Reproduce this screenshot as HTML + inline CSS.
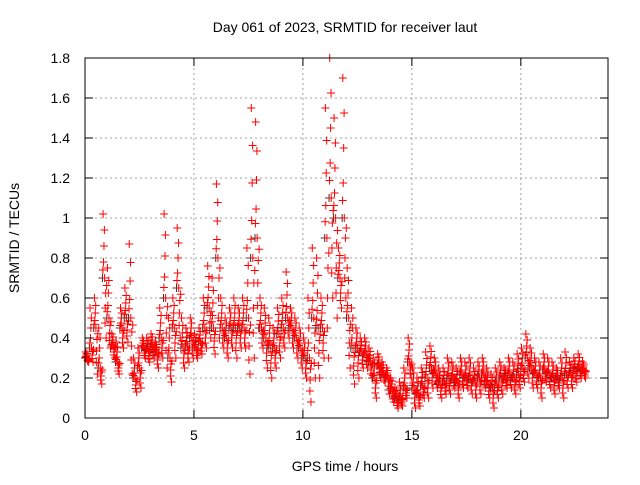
<!DOCTYPE html>
<html><head><meta charset="utf-8"><style>
body{margin:0;background:#fff}
svg text{font-family:"Liberation Sans",sans-serif;font-size:14px;fill:#000}
</style></head><body>
<svg id="c" width="640" height="480" xmlns="http://www.w3.org/2000/svg">
<rect width="640" height="480" fill="#fff"/>
<text x="345" y="32" text-anchor="middle">Day 061 of 2023, SRMTID for receiver laut</text>
<text x="345" y="471" text-anchor="middle">GPS time / hours</text>
<text transform="translate(19,238) rotate(-90)" text-anchor="middle">SRMTID / TECUs</text>
<g id="grid"></g><g id="marks"></g><g id="axes"></g>
</svg>
<script>
const t0=0, dt=0.2;
const hiVals=[.33,.55,.6,.45,1.02,.75,.42,.38,.55,.65,.87,.3,.35,.4,.4,.42,.38,.55,1.02,.5,.6,.95,.5,.45,.5,.42,.45,.6,.76,.7,1.17,.6,.5,.55,.6,.55,.6,.85,1.55,1.48,.6,.55,.5,.45,.55,.6,.73,.55,.5,.45,.4,.6,.85,.8,.6,1.55,1.8,1.5,.85,1.7,.75,.55,.45,.4,.4,.35,.3,.32,.28,.25,.2,.15,.18,.25,.4,.25,.2,.25,.33,.36,.3,.25,.25,.3,.28,.25,.3,.28,.3,.25,.28,.3,.25,.22,.25,.28,.25,.3,.28,.32,.35,.42,.35,.3,.28,.32,.3,.28,.25,.3,.33,.28,.3,.32,.28];
const loVals=[.28,.28,.22,.17,.4,.35,.3,.22,.35,.38,.22,.13,.15,.3,.28,.3,.25,.3,.25,.18,.3,.4,.25,.28,.3,.3,.32,.35,.4,.32,.4,.35,.3,.35,.3,.35,.35,.22,.3,.45,.35,.25,.2,.25,.3,.35,.4,.35,.3,.25,.2,.08,.2,.2,.3,.3,.6,.5,.55,.6,.25,.17,.2,.25,.25,.2,.1,.2,.18,.12,.08,.05,.06,.1,.2,.05,.06,.1,.1,.15,.15,.1,.12,.12,.15,.1,.15,.15,.12,.1,.12,.15,.1,.05,.1,.12,.15,.15,.12,.15,.18,.2,.15,.15,.1,.18,.15,.12,.15,.1,.15,.15,.18,.2,.2];
const midVals=[.3,.35,.45,.25,.7,.5,.36,.28,.45,.5,.5,.2,.25,.35,.34,.36,.33,.4,.6,.3,.45,.65,.35,.36,.4,.35,.38,.45,.55,.45,.8,.45,.4,.45,.45,.45,.45,.5,.8,.9,.45,.4,.35,.35,.42,.45,.5,.45,.4,.35,.3,.3,.5,.45,.45,.9,1.1,1.0,.7,1.0,.5,.35,.35,.33,.32,.28,.2,.26,.22,.2,.14,.1,.1,.15,.28,.15,.12,.16,.2,.25,.22,.17,.18,.2,.2,.18,.22,.2,.2,.18,.2,.22,.17,.15,.17,.2,.2,.22,.2,.22,.25,.3,.25,.22,.2,.24,.22,.2,.2,.2,.22,.22,.24,.25,.24];
const xTicks=[0,5,10,15,20];
const yTicks=[0,0.2,0.4,0.6,0.8,1,1.2,1.4,1.6,1.8];
const yLabels=["0","0.2","0.4","0.6","0.8","1","1.2","1.4","1.6","1.8"];
const X0=85,X1=608,Y0=418,Y1=58,XMAX=24,YMAX=1.8;
const xs=v=>X0+(X1-X0)*v/XMAX, ys=v=>Y0-(Y0-Y1)*v/YMAX;
const NS="http://www.w3.org/2000/svg";
function mk(tag,at,par){const e=document.createElementNS(NS,tag);for(const k in at)e.setAttribute(k,at[k]);document.getElementById(par).appendChild(e);return e;}
const border=mk('rect',{x:X0,y:Y1,width:X1-X0,height:Y0-Y1,fill:'none',stroke:'#000','stroke-width':1},'axes');


yTicks.forEach((v,i)=>{const y=ys(v);
 if(i>0&&i<yTicks.length-1){const g=mk('line',{x1:X0,x2:X1,y1:y,y2:y,stroke:'#a0a0a0','stroke-dasharray':'2,3'},'grid');}
 mk('line',{x1:X0,x2:X0+8,y1:y,y2:y,stroke:'#000'},'axes');mk('line',{x1:X1,x2:X1-8,y1:y,y2:y,stroke:'#000'},'axes');
 const t=mk('text',{x:X0-15,y:y+5,'text-anchor':'end'},'axes');t.textContent=yLabels[i];
 
 });
xTicks.forEach(v=>{const x=xs(v);
 if(v>0){const g=mk('line',{x1:x,x2:x,y1:Y1,y2:Y0,stroke:'#a0a0a0','stroke-dasharray':'2,3'},'grid');}
 mk('line',{x1:x,x2:x,y1:Y0,y2:Y0-8,stroke:'#000'},'axes');mk('line',{x1:x,x2:x,y1:Y1,y2:Y1+8,stroke:'#000'},'axes');
 const t=mk('text',{x:x,y:Y0+22,'text-anchor':'middle'},'axes');t.textContent=String(v);
 
 });
function cross(t,v,col){const x=xs(t),y=ys(v);
 const p=mk('path',{d:`M${x-4},${y}h8M${x},${y-4}v8`,stroke:col,'stroke-width':1},'marks');
 
 }
midVals.forEach((m,i)=>{const t=t0+i*dt;const h=hiVals[i],l=loVals[i];
 cross(t,m,'#333');
 cross(t+0.07,(m+h)/2,'#f00');cross(t+0.13,(m+l)/2,'#f00');
 cross(t+0.03,h,'#f00');cross(t+0.1,m,'#f00');cross(t+0.17,l,'#f00');
 cross(t+0.05,(m*3+h)/4,'#f00');cross(t+0.15,(m*3+l)/4,'#f00');
 cross(t+0.09,(m+h*3)/4,'#f00');cross(t+0.12,(m+l*3)/4,'#f00');
 cross(t+0.02,(m*7+h)/8,'#f00');cross(t+0.19,(m*7+l)/8,'#f00');});
</script>
</body></html>
